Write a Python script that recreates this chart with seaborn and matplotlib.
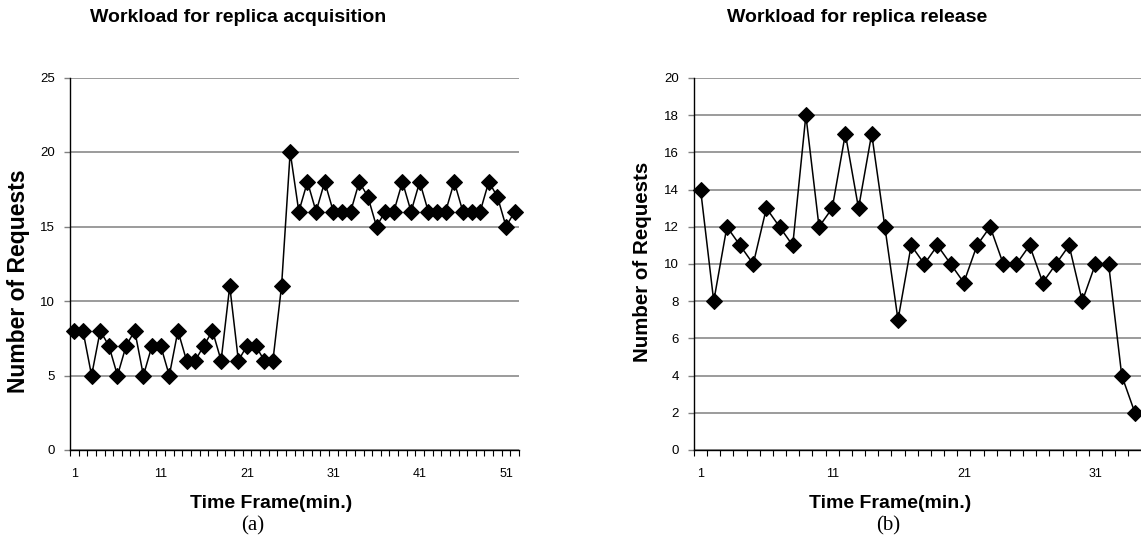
import numpy as np
import pandas as pd
import matplotlib
matplotlib.use("Agg")
import matplotlib.pyplot as plt
import seaborn as sns

# Requests per minute while replicas are being acquired
acquisition = [8, 8, 5, 8, 7, 5, 7, 8, 5, 7, 7, 5, 8, 6, 6, 7, 8, 6, 11, 6,
               7, 7, 6, 6, 11, 20, 16, 18, 16, 18, 16, 16, 16, 18, 17, 15, 16, 16, 18, 16,
               18, 16, 16, 16, 18, 16, 16, 16, 18, 17, 15, 16]
# Requests per minute while replicas are being released
release = [14, 8, 12, 11, 10, 13, 12, 11, 18, 12, 13, 17, 13, 17, 12, 7, 11, 10, 11, 10,
           9, 11, 12, 10, 10, 11, 9, 10, 11, 8, 10, 10, 4, 2]

acq_xticks = [1, 11, 21, 31, 41, 51]
rel_xticks = [1, 11, 21, 31]
acq_yticks = [0, 5, 10, 15, 20, 25]
rel_yticks = [0, 2, 4, 6, 8, 10, 12, 14, 16, 18, 20]

titles = ["Workload for replica acquisition", "Workload for replica release"]
xlabel = "Time Frame(min.)"
ylabel = "Number of Requests"
captions = ["(a)", "(b)"]

sns.set_theme(style="white")
plt.rcParams["font.family"] = ["Liberation Sans", "DejaVu Sans"]
plt.rcParams["text.color"] = "black"
plt.rcParams["axes.labelcolor"] = "black"
plt.rcParams["xtick.color"] = "black"
plt.rcParams["ytick.color"] = "black"

W, H = 1141, 549
fig = plt.figure(figsize=(W / 100, H / 100), dpi=100)
ax1 = fig.add_axes([70 / W, 1 - 450 / H, 449 / W, (450 - 77.5) / H])
ax2 = fig.add_axes([694 / W, 1 - 450 / H, 447.5 / W, (450 - 78) / H])


def draw(ax, values, xticks, yticks):
    n = len(values)
    df = pd.DataFrame({"frame": np.arange(1, n + 1), "requests": values})
    sns.lineplot(data=df, x="frame", y="requests", ax=ax, color="black",
                 linewidth=1.1, marker="D", markersize=8,
                 markerfacecolor="black", markeredgecolor="black",
                 clip_on=False, zorder=3)
    ax.set_xlim(0.5, n + 0.5)
    ax.set_ylim(yticks[0], yticks[-1])
    ax.set_yticks(yticks)
    ax.set_yticklabels([str(v) for v in yticks])
    ax.set_xticks(xticks)
    ax.set_xticklabels([str(v) for v in xticks])
    ax.set_xticks(np.arange(0.5, n + 1), minor=True)
    ax.yaxis.grid(True, color="#808080", linewidth=1.1)
    ax.xaxis.grid(False)
    ax.set_axisbelow(True)
    ax.tick_params(axis="x", which="major", length=0, pad=13,
                   labelsize=9, labelcolor="black")
    ax.tick_params(axis="x", which="minor", bottom=True, length=4,
                   width=0.8, color="black", direction="out")
    ax.tick_params(axis="y", which="major", left=True, length=4,
                   width=1, color="#808080", pad=7, labelsize=9.5,
                   labelcolor="black")
    for side in ("top", "right"):
        ax.spines[side].set_visible(False)
    for side in ("left", "bottom"):
        ax.spines[side].set_visible(True)
        ax.spines[side].set_color("black")
        ax.spines[side].set_linewidth(1)
        ax.spines[side].set_zorder(4)
    ax.set_xlabel("")
    ax.set_ylabel("")


draw(ax1, acquisition, acq_xticks, acq_yticks)
draw(ax2, release, rel_xticks, rel_yticks)

# Titles, axis labels and captions
for cx, title in zip([238 / W, 857 / W], titles):
    fig.text(cx, 1 - 17 / H, title, ha="center", va="center",
             fontsize=14, fontweight="bold", color="black")
for cx in [271 / W, 890 / W]:
    fig.text(cx, 1 - 503 / H, xlabel, ha="center", va="center",
             fontsize=14, fontweight="bold", color="black")
for cx, cy, fs in zip([19 / W, 642 / W], [1 - 281 / H, 1 - 262 / H], [16.5, 14.8]):
    fig.text(cx, cy, ylabel, ha="center", va="center",
             rotation=90, fontsize=fs, fontweight="bold", color="black")
for cx, cap in zip([253 / W, 888 / W], captions):
    fig.text(cx, 1 - 526 / H, cap, ha="center", va="center",
             fontsize=15, color="black",
             family=["Liberation Serif", "DejaVu Serif"])

fig.savefig("out.png", dpi=100)
